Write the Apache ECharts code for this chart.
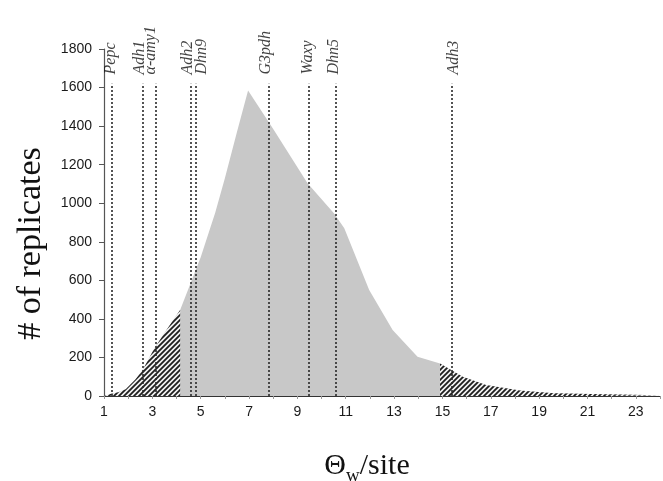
<!DOCTYPE html>
<html><head><meta charset="utf-8">
<script src="https://cdn.jsdelivr.net/npm/echarts/dist/echarts.min.js"></script>
<style>html,body{margin:0;padding:0;background:#fff}#c{width:663px;height:481px}</style>
</head><body><div id="c"></div>
<script>
// Distribution of Theta_w per site across replicates
const thetaW     = [1, 1.3, 1.6, 1.9, 2.3, 2.6, 3.1, 3.6, 4.15, 5, 5.6, 6, 6.5, 6.96, 8, 9.42, 10.52, 10.94, 11.97, 12.94, 13.97, 14.9, 15.84, 16.8, 18.2, 19.6, 21.6, 24];
const replicates = [0, 12, 20, 35, 85, 135, 250, 345, 446, 720, 950, 1130, 1370, 1585, 1385, 1103, 947, 870, 550, 342, 204, 168, 100, 57, 28, 14, 9, 4];
// tails (hatched) boundaries
const hatchLeftEnd = 4.15;
const hatchRightStart = 14.9;
// observed loci
const geneNames     = ['Pepc', 'Adh1', 'α-amy1', 'Adh2', 'Dhn9', 'G3pdh', 'Waxy', 'Dhn5', 'Adh3'];
const genePositions = [1.32, 2.61, 3.14, 4.59, 4.80, 7.83, 9.49, 10.57, 15.40];
const geneLineTop = 1620;
const geneLabelBase = 1668;
// tick labels
const xTickLabels = [1, 3, 5, 7, 9, 11, 13, 15, 17, 19, 21, 23];
const yTickLabels = [0, 200, 400, 600, 800, 1000, 1200, 1400, 1600, 1800];

const labelNudge = [-1, -3, -5, -3, 6, -3, -1, -2, 2];

function makeHatch() {
  const s = 5, c = document.createElement('canvas');
  c.width = s; c.height = s;
  const g = c.getContext('2d');
  g.fillStyle = '#f2f2f2'; g.fillRect(0, 0, s, s);
  g.strokeStyle = '#1e1e1e'; g.lineWidth = 1.8;
  g.beginPath();
  g.moveTo(-1, s + 1); g.lineTo(s + 1, -1);
  g.moveTo(-1, 1); g.lineTo(1, -1);
  g.moveTo(s - 1, s + 1); g.lineTo(s + 1, s - 1);
  g.stroke();
  return c;
}
const hatch = makeHatch();

const allPts = thetaW.map((x, i) => [x, replicates[i]]);
const leftPts = allPts.filter(p => p[0] <= hatchLeftEnd);
const rightPts = allPts.filter(p => p[0] >= hatchRightStart);

const chart = echarts.init(document.getElementById('c'), null, {renderer: 'canvas'});
const tickFont = {fontFamily: 'Liberation Sans', fontSize: 14, color: '#1a1a1a'};

chart.setOption({
  animation: false,
  backgroundColor: '#ffffff',
  grid: {left: 104, right: 3, top: 49, bottom: 85, containLabel: false, outerBoundsMode: 'none'},
  xAxis: {
    type: 'value', min: 1, max: 24, interval: 1,
    axisLine: {show: true, lineStyle: {color: '#333', width: 1.2}},
    axisTick: {show: true, length: 3, lineStyle: {color: '#999'}},
    splitLine: {show: false},
    axisLabel: Object.assign({
      margin: 9,
      formatter: v => (xTickLabels.indexOf(v) >= 0 ? String(v) : '')
    }, tickFont),
    name: '{t|Θ}{s|w}{t|/site}',
    nameLocation: 'middle',
    nameGap: 50,
    nameTextStyle: {
      padding: [0, 30, 0, 0],
      rich: {
        t: {fontFamily: 'Liberation Serif', fontSize: 30, lineHeight: 40, color: '#111'},
        s: {fontFamily: 'Liberation Serif', fontSize: 19, lineHeight: 19, verticalAlign: 'bottom', color: '#111'}
      }
    }
  },
  yAxis: {
    type: 'value', min: 0, max: 1800, interval: 200,
    axisLine: {show: true, lineStyle: {color: '#555', width: 1.2}},
    axisTick: {show: true, length: 5, lineStyle: {color: '#555'}},
    splitLine: {show: false},
    axisLabel: Object.assign({
      margin: 12,
      formatter: v => (yTickLabels.indexOf(v) >= 0 ? String(v) : '')
    }, tickFont),
    name: '# of replicates',
    nameLocation: 'middle',
    nameGap: 56,
    nameTextStyle: {fontFamily: 'Liberation Serif', fontSize: 34, lineHeight: 34, color: '#111', padding: [0, 42, 0, 0]}
  },
  series: [
    {
      type: 'line', data: allPts, showSymbol: false, silent: true, z: 1,
      lineStyle: {width: 0, opacity: 0},
      areaStyle: {color: '#c8c8c8', opacity: 1}
    },
    {
      type: 'line', data: leftPts, showSymbol: false, silent: true, z: 2,
      lineStyle: {width: 0, opacity: 0},
      areaStyle: {color: {image: hatch, repeat: 'repeat'}, opacity: 1}
    },
    {
      type: 'line', data: rightPts, showSymbol: false, silent: true, z: 2,
      lineStyle: {width: 0, opacity: 0},
      areaStyle: {color: {image: hatch, repeat: 'repeat'}, opacity: 1}
    },
    {
      type: 'scatter', z: 5, silent: true, symbolSize: 0,
      data: genePositions.map((x, i) => ({
        value: [x, geneLabelBase], name: geneNames[i],
        label: {offset: [0, labelNudge[i]]}
      })),
      label: {
        show: true, position: 'inside', rotate: 90, align: 'left', verticalAlign: 'middle',
        formatter: p => p.name,
        fontFamily: 'Liberation Serif', fontStyle: 'italic', fontSize: 16, color: '#111'
      },
      markLine: {
        silent: true, symbol: ['none', 'none'], animation: false,
        label: {show: false},
        lineStyle: {type: [2, 2], width: 1.6, color: '#2a2a2a', opacity: 1},
        emphasis: {disabled: true},
        data: genePositions.map(x => [{coord: [x, 0]}, {coord: [x, geneLineTop]}])
      }
    }
  ]
});
</script></body></html>
